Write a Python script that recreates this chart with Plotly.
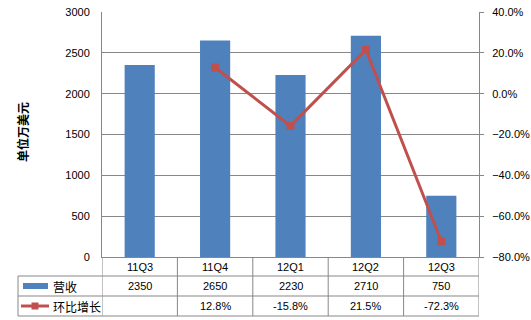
import plotly.graph_objects as go

categories = ["11Q3", "11Q4", "12Q1", "12Q2", "12Q3"]
revenue = [2350, 2650, 2230, 2710, 750]
growth = [None, 12.8, -15.8, 21.5, -72.3]
revenue_name = "营收"
growth_name = "环比增长"
y_title = "单位万美元"

W, H = 531, 320
L, R, T, B = 102, 479, 12, 257
FONT = "Liberation Sans"
GRID = "#878787"
BLUE = "#4F81BD"
RED = "#C0504D"

def py(p):  # pixel y -> paper y
    return (B - p) / (B - T)

def pxp(p):  # pixel x -> paper x
    return (p - L) / (R - L)

fig = go.Figure()
fig.add_trace(go.Bar(x=list(range(len(categories))), y=revenue, name=revenue_name,
                     marker=dict(color=BLUE, line=dict(width=0)), width=0.4))
fig.add_trace(go.Scatter(x=list(range(len(categories))), y=growth, name=growth_name,
                         yaxis="y2", mode="lines+markers",
                         line=dict(color=RED, width=3),
                         marker=dict(symbol="square", size=8, color=RED)))

shapes = []
ann = []
line_style = dict(color=GRID, width=1)
row_y = [257, 276, 296, 316]
for yy in row_y[1:]:
    shapes.append(dict(type="line", xref="paper", yref="paper", x0=pxp(18), x1=1,
                       y0=py(yy), y1=py(yy), line=line_style))
n = len(categories)
for i in range(n + 1):
    shapes.append(dict(type="line", xref="x", yref="paper", x0=i - 0.5, x1=i - 0.5,
                       y0=py(257), y1=py(316), line=line_style))
shapes.append(dict(type="line", xref="paper", yref="paper", x0=pxp(18), x1=pxp(18),
                   y0=py(276), y1=py(316), line=line_style))
# legend keys
shapes.append(dict(type="rect", xref="paper", yref="paper", x0=pxp(23), x1=pxp(48),
                   y0=py(289), y1=py(283), fillcolor=BLUE, line=dict(width=0)))
shapes.append(dict(type="line", xref="paper", yref="paper", x0=pxp(21), x1=pxp(49),
                   y0=py(306), y1=py(306), line=dict(color=RED, width=3)))
shapes.append(dict(type="rect", xref="paper", yref="paper", x0=pxp(31.5), x1=pxp(38.5),
                   y0=py(309.5), y1=py(302.5), fillcolor=RED, line=dict(width=0)))

tf = dict(family=FONT, size=11, color="#000000")
cell = dict(showarrow=False, xanchor="center", yanchor="middle", font=tf, yref="paper", xref="x")
for i, c in enumerate(categories):
    ann.append(dict(x=i, y=py(266.5), text=c, **cell))
    ann.append(dict(x=i, y=py(286), text=str(revenue[i]), **cell))
    if growth[i] is not None:
        ann.append(dict(x=i, y=py(306), text=f"{growth[i]:.1f}%", **cell))
cjk = dict(family="Noto Sans CJK SC", size=12, color="#000000")
ann.append(dict(x=pxp(51), y=py(286), xref="paper", yref="paper", text=revenue_name,
                showarrow=False, xanchor="left", yanchor="middle", font=cjk))
ann.append(dict(x=pxp(51), y=py(306), xref="paper", yref="paper", text=growth_name,
                showarrow=False, xanchor="left", yanchor="middle", font=cjk))
ann.append(dict(x=pxp(22), y=py(132), xref="paper", yref="paper", text="<b>" + y_title + "</b>",
                showarrow=False, textangle=-90, xanchor="center", yanchor="middle", font=cjk))

fig.update_layout(
    width=W, height=H,
    margin=dict(l=L, r=W - R, t=T, b=H - B, pad=0, autoexpand=False),
    paper_bgcolor="white", plot_bgcolor="white",
    showlegend=False,
    bargap=0.6,
    xaxis=dict(range=[-0.5, n - 0.5], showticklabels=False, showgrid=False, zeroline=False,
               showline=True, linecolor=GRID, linewidth=1, ticks="", automargin=False),
    yaxis=dict(range=[0, 3000], dtick=500, showgrid=True, gridcolor=GRID, gridwidth=1,
               zeroline=False, showline=True, linecolor=GRID, ticks="", ticklen=0,
               tickfont=tf, ticklabelstandoff=9, automargin=False),
    yaxis2=dict(range=[-80, 40], dtick=20, overlaying="y", side="right", showgrid=False,
                zeroline=False, showline=True, linecolor=GRID, ticks="outside", ticklen=4,
                tickcolor=GRID, ticksuffix="%", tickformat=".1f", tickfont=tf,
                ticklabelstandoff=6, automargin=False),
    shapes=shapes, annotations=ann,
)
fig.write_html("out.html")
